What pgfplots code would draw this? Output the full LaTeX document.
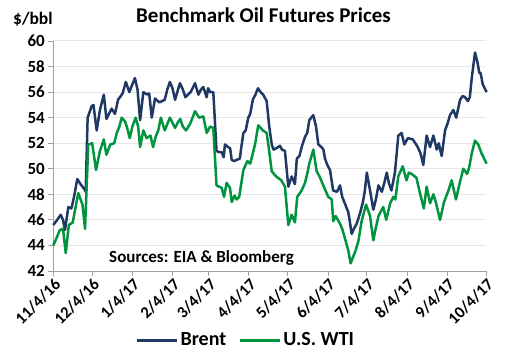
\documentclass[border=0pt]{standalone}
\usepackage{pgfplots}
\pgfplotsset{compat=1.18}
\usepackage{fontspec}
\setmainfont{Carlito}
\definecolor{brent}{RGB}{31,56,100}
\definecolor{wti}{RGB}{0,148,62}
\definecolor{gridc}{RGB}{230,230,230}
\definecolor{axc}{RGB}{160,160,160}
\begin{document}
\begin{tikzpicture}
\path[use as bounding box] (0,0) rectangle (513bp,354bp);
\node[font=\bfseries\fontsize{21bp}{24bp}\selectfont] at (263.5bp,339bp) {Benchmark Oil Futures Prices};
\node[anchor=west,font=\bfseries\fontsize{17.5bp}{20bp}\selectfont,inner sep=0pt] at (13bp,335bp) {\$/bbl};
\begin{axis}[
  at={(53.3bp,83bp)}, anchor=south west,
  scale only axis, width=432.7bp, height=230bp,
  xmin=0, xmax=334, ymin=42, ymax=60,
  clip=false,
  axis x line*=bottom, axis y line*=left,
  axis line style={draw=axc, line width=0.9bp},
  every tick/.style={draw=axc, line width=0.9bp},
  xtick={0,30,61,92,120,151,181,212,242,273,304,334},
  xticklabels={11/4/16,12/4/16,1/4/17,2/4/17,3/4/17,4/4/17,5/4/17,6/4/17,7/4/17,8/4/17,9/4/17,10/4/17},
  ytick={42,44,46,48,50,52,54,56,58,60},
  yticklabels={42,44,46,48,50,52,54,56,58,60},
  major tick length=5bp,
  xtick align=outside, ytick align=outside,
  ymajorgrids, grid style={draw=gridc, line width=1bp},
  x tick label style={rotate=45, anchor=north east, font=\bfseries\fontsize{16.5bp}{18bp}\selectfont, inner sep=1bp},
  y tick label style={font=\bfseries\fontsize{17bp}{19bp}\selectfont},
  legend columns=2,
  legend style={at={(0.445,-0.30)}, anchor=center, draw=none, fill=none,
    font=\bfseries\fontsize{20bp}{22bp}\selectfont,
    /tikz/every even column/.append style={column sep=10bp}},
  legend image code/.code={\draw[#1, line width=3bp] (0bp,0bp) -- (40bp,0bp);},
]
\addplot[brent, line width=2.5bp, line join=round] table {
0 45.6
3 46.0
5.7 46.4
7.5 46.0
9 45.2
11.6 47.0
14 46.9
16 47.8
18.5 49.2
21 48.8
24 48.4
25 48.2
26.5 54.0
29.6 54.9
31 55.0
33.5 53.0
36 54.6
39 55.8
41 53.9
43 54.3
45 54.7
47.6 54.3
50 55.4
53.5 55.9
56 56.8
58.7 56.0
61 56.6
63 57.1
65 56.2
67 53.8
69.5 56.0
72.6 55.8
74 55.9
76 54.0
78.5 55.5
81.8 55.2
84 55.3
86 55.4
88 56.2
90 56.8
92 56.3
94 55.4
96 56.1
97.8 56.7
100 56.2
102 55.6
104 55.8
106 56.0
108 56.4
109.4 56.7
112 55.8
114 56.2
115.8 56.4
118.4 55.6
119.5 56.3
121 56.0
123.5 56.0
126 51.4
128 51.3
130 51.3
131.5 50.9
132.5 51.9
135 51.7
136.5 51.6
137.7 50.7
139.5 50.6
141.6 50.7
144 50.8
145 51.6
146.7 52.8
148.5 53.0
150.5 54.0
152 54.3
154 55.4
156 55.8
158 56.3
160 56.0
162 55.8
164.7 55.3
166.7 53.3
168.6 51.9
170 51.5
172 51.6
175 51.8
176.5 51.5
178.8 51.4
181.4 48.6
184 49.4
186.5 48.8
188 50.8
190 51.0
191.7 51.7
194.3 52.5
196 52.8
197.6 53.8
200.7 54.2
202.8 53.3
204.6 51.9
207 51.7
208.5 51.5
209.7 50.8
211.5 50.3
213.6 49.9
216 48.3
219 48.2
221.3 48.7
223 47.8
225 47.3
227.7 46.6
229 45.8
230.3 44.9
232 45.3
234.2 45.7
236.7 46.5
239 47.4
240.5 48.3
242 49.7
244.5 48.3
247 46.8
249 47.6
251 48.7
253.6 48.2
255.5 48.9
257.4 49.7
259 48.9
261 48.3
263.7 49.7
266.3 52.6
268.8 52.8
271 51.9
273.6 52.4
277.5 52.3
279.5 52.0
281.3 51.7
283.5 51.2
285.6 50.3
288.2 52.6
290.8 51.7
293.4 52.6
296 51.5
297.5 52.0
299.8 51.0
302.4 53.0
304.5 53.6
306.2 54.2
308.8 54.6
311 54.0
314 55.4
316 55.7
317.8 55.6
320 55.3
321.5 55.6
323 57.1
325.5 59.1
327.5 58.3
328.8 57.5
329.8 57.5
331.5 56.6
334.5 56.0
};
\addlegendentry{Brent}
\addplot[wti, line width=2.5bp, line join=round] table {
0 44.0
3 44.7
5 45.2
7.5 45.3
9.6 43.4
12 45.6
15 45.8
17 46.9
19.3 48.1
22.5 47.2
24.5 45.3
27 51.9
30 52.0
33 49.9
36 51.4
39 52.3
41 51.1
44 51.9
47 52.0
49 52.8
51 53.3
52.8 54.0
55.4 53.7
57 53.2
59 52.4
61 53.3
63.6 54.0
65.5 53.3
67 51.7
69.5 53.0
72 52.4
75 52.6
77 51.7
79 52.5
81 53.0
83 54.0
86 53.0
88 53.5
90 54.0
92 53.6
94 53.2
96 53.6
98 53.9
100 53.3
102.5 53.0
105.5 53.5
107.5 54.0
109.4 54.5
112.6 54.0
115.8 54.1
118.4 52.8
121 53.3
123.5 53.2
126 48.7
128 48.6
130 48.5
131.8 47.8
133.8 48.9
136.4 48.5
137.7 47.4
140 47.9
141.5 47.6
143.5 47.8
146.7 49.9
149.8 50.6
152 50.4
154 51.2
155.7 51.9
158.2 53.4
160 53.2
161.7 53.0
164.7 52.8
166.5 51.5
168.6 49.8
172 49.4
176 49.1
178.8 48.6
181.4 45.6
184 46.4
186.5 45.8
188.3 47.8
191.7 48.3
194.3 48.9
196 49.6
197.6 50.4
200.7 51.5
203.3 49.8
205.5 49.4
208.4 48.7
212.2 47.8
214.9 47.6
216.1 45.9
218 46.3
221.3 45.7
223 45.3
225 44.6
227.7 43.6
229.5 42.6
231 43.0
233 43.5
235.4 44.3
238 45.9
241.4 47.2
244.5 46.3
247 44.4
249 45.4
251 46.3
253 46.7
254.7 47.0
257 46.0
260 47.3
262.5 47.8
264 47.6
266.3 49.4
269.7 50.2
272.6 49.1
274.5 49.7
276.5 49.6
280.3 49.3
283 48.1
286 46.9
288.2 48.6
290.8 47.3
293.4 48.0
295.5 47.3
298.5 46.0
301.6 47.4
305 48.3
307.5 49.1
310.8 47.6
314 49.0
316.5 50.0
319.4 49.6
321 50.1
323 51.2
325.5 52.2
328 51.9
330.6 51.2
334.5 50.4
};
\addlegendentry{U.S. WTI}
\node[font=\bfseries\fontsize{17bp}{19bp}\selectfont] at (rel axis cs:0.3425,0.0565) {Sources: EIA \& Bloomberg};
\end{axis}
\end{tikzpicture}
\end{document}
